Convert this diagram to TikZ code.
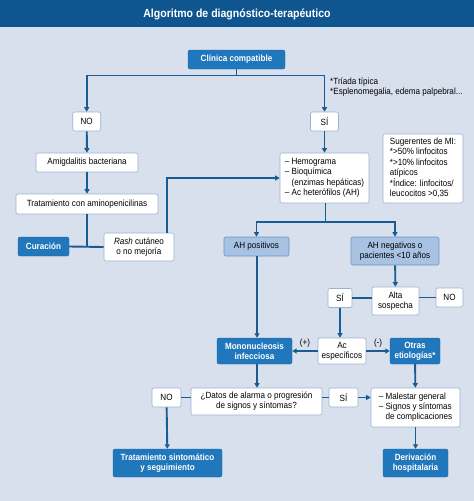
\documentclass[tikz,border=0pt]{standalone}
\usepackage{fontspec}
\setmainfont{Liberation Sans}[FakeStretch=0.9]
\usetikzlibrary{arrows.meta}
\definecolor{titlebg}{HTML}{0F5690}
\definecolor{panelbg}{HTML}{D8E0EE}
\definecolor{darkfill}{HTML}{2177BC}
\definecolor{midfill}{HTML}{A8C2E3}
\definecolor{midline}{HTML}{6E94C5}
\definecolor{wline}{HTML}{9DB0CC}
\definecolor{connc}{HTML}{1B5B93}
\tikzset{
  box/.style={rounded corners=2pt, inner sep=0pt, align=center, font=\fontsize{9}{10.2}\selectfont},
  wbox/.style={box, fill=white, draw=wline, line width=0.6pt},
  dbox/.style={box, fill=darkfill, draw=darkfill!85!black, line width=0.4pt, text=white, font=\fontsize{9}{10.2}\selectfont\bfseries},
  mbox/.style={box, fill=midfill, draw=midline, line width=0.6pt},
  sz/.style 2 args={minimum width=#1pt, minimum height=#2pt},
  cline/.style={draw=connc, line width=1.9pt},
  arr/.style={cline, -{Triangle[length=4.5pt,width=5pt]}},
  lbl/.style={inner sep=0pt, font=\fontsize{9}{10.2}\selectfont}
}
\begin{document}
\begin{tikzpicture}[x=1pt,y=-1pt]
\useasboundingbox (0,0) rectangle (474,501);
\fill[panelbg] (0,0) rectangle (474,501);
\fill[titlebg] (0,0) rectangle (474,27);
\fill[white!70!cyan!30!panelbg] (0,27) rectangle (474,28.5);
\node[text=white, font=\fontsize{11.7}{13}\selectfont\bfseries] (title) at (237,14) {Algoritmo de diagnóstico-terapéutico};

% nodes
\node[dbox, sz={97}{19}] (clin) at (236.5,59.5) {Clínica compatible};
\node[wbox, sz={28}{19}] (no1) at (86.7,121.5) {NO};
\node[wbox, sz={28}{19}] (si1) at (324.5,121.5) {SÍ};
\node[lbl, anchor=north west, align=left, font=\fontsize{9}{10}\selectfont] (notes) at (330,78) {*Tríada típica\\*Esplenomegalia, edema palpebral...};

\node[wbox, sz={102}{19}] (amig) at (87,162.5) {Amigdalitis bacteriana};
\node[wbox, sz={142}{20}] (trat) at (87,204) {Tratamiento con aminopenicilinas};
\node[dbox, sz={51}{19}] (cur) at (43.5,246.5) {Curación};
\node[wbox, sz={70}{28}] (rash) at (139,247) {\textit{Rash} cutáneo\\o no mejoría};

\node[wbox, sz={89}{50}] (hemo) at (324.5,178) {\begin{tabular}{@{}l@{ }l@{}}–&Hemograma\\–&Bioquímica\\&(enzimas hepáticas)\\–&Ac heterófilos (AH)\end{tabular}};
\node[wbox, sz={80}{69}] (sug) at (423,168.5) {\begin{tabular}{@{}l@{}}Sugerentes de MI:\\{}*>50\% linfocitos\\{}*>10\% linfocitos\\atípicos\\{}*Índice: linfocitos/\\leucocitos >0,35\end{tabular}};

\node[mbox, sz={65}{19}] (ahp) at (256.5,246.5) {AH positivos};
\node[mbox, sz={88}{28}] (ahn) at (395,251) {AH negativos o\\pacientes <10 años};

\node[wbox, sz={24}{19}] (si2) at (340,298) {SÍ};
\node[wbox, sz={47}{28}] (alta) at (395.5,301) {Alta\\sospecha};
\node[wbox, sz={27}{19}] (no2) at (449.5,297.5) {NO};

\node[dbox, sz={75}{26}] (mono) at (254.5,351) {Mononucleosis\\infecciosa};
\node[wbox, sz={48}{26}] (ac) at (342,351) {Ac\\específicos};
\node[dbox, sz={50}{26}] (otras) at (415,351) {Otras\\etiologías*};

\node[wbox, sz={131}{27}] (datos) at (256.5,401.5) {¿Datos de alarma o progresión\\de signos y síntomas?};
\node[wbox, sz={29}{19}] (no3) at (166.5,397.5) {NO};
\node[wbox, sz={29}{19}] (si3) at (343.5,397.5) {SÍ};
\node[wbox, sz={89}{39}] (mal) at (415.5,407.5) {\begin{tabular}{@{}l@{ }l@{}}–&Malestar general\\–&Signos y síntomas\\&de complicaciones\end{tabular}};

\node[dbox, sz={109}{28}] (tsint) at (167.5,463) {Tratamiento sintomático\\y seguimiento};
\node[dbox, sz={65}{28}] (deriv) at (415.5,463) {Derivación\\hospitalaria};

% connectors
\coordinate (j1) at (236.5,75.5);
\draw[cline] (clin) -- (j1);
\draw[arr] (j1) -| (no1);
\draw[arr] (j1) -| (si1);
\draw[arr] (no1) -- (amig);
\draw[arr] (amig) -- (trat);
\coordinate (j2) at (87,247);
\draw[cline] (trat) -- (j2);
\draw[cline] (cur.east) -- (rash.west);
\coordinate (r1) at (167,233);
\draw[arr] (r1) |- (hemo.west);
\draw[arr] (si1) -- (si1 |- hemo.north);
\coordinate (j3) at (325.5,222);
\draw[cline] (hemo.south -| j3) -- (j3);
\draw[arr] (j3) -| (ahp);
\draw[arr] (j3) -| (ahn);
\draw[arr] (ahp.south -| 257,0) -- (mono.north -| 257,0);
\draw[arr] (ahn) -- (alta);
\draw[cline] (si2) -- (si2 -| alta.west);
\draw[cline] (alta.east |- no2) -- (no2);
\draw[arr] (si2) -- (si2 |- ac.north);
\draw[arr] (ac) -- (mono) node[midway, above=3pt, lbl] {(+)};
\draw[arr] (ac) -- (otras) node[midway, above=3pt, lbl] {(-)};
\draw[arr] (mono.south -| 257,0) -- (datos.north -| 257,0);
\draw[arr] (otras) -- (mal);
\draw[cline] (datos.west |- no3) -- (no3);
\draw[cline] (datos.east |- si3) -- (si3);
\draw[arr] (si3) -- (si3 -| mal.west);
\draw[arr] (no3) -- (tsint);
\draw[arr] (mal) -- (deriv);
\end{tikzpicture}
\end{document}
